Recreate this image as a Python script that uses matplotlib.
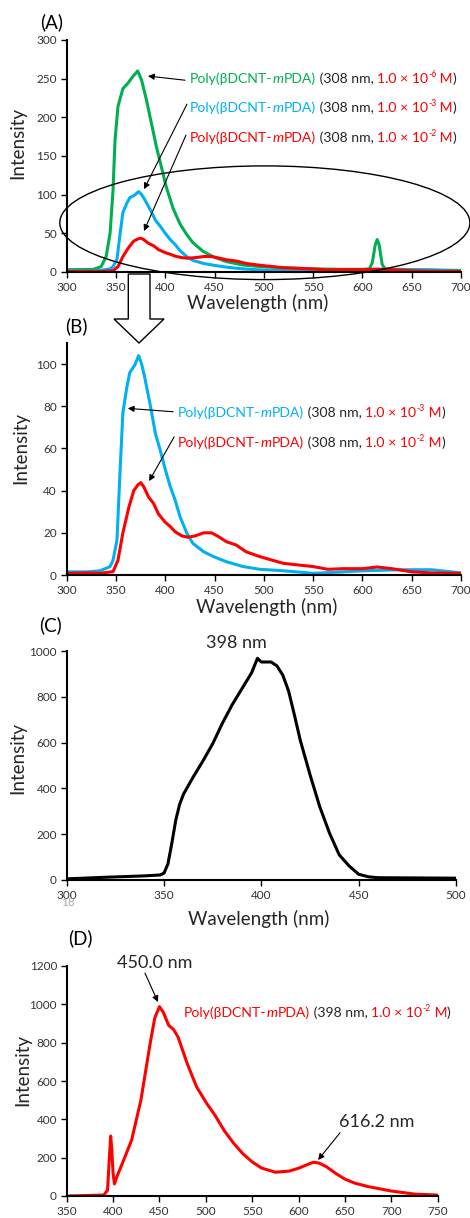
import matplotlib
matplotlib.use("Agg")
import matplotlib.pyplot as plt
from matplotlib.patches import Ellipse, Polygon
from matplotlib.transforms import ScaledTranslation

plt.rcParams['font.family'] = ['Lato', 'DejaVu Sans']

# ---------------- data ----------------
green_wl = [300, 320, 327, 335, 340, 344, 347, 349, 352, 357, 362, 367, 372, 376, 381, 386,
            391, 396, 401, 408, 415, 422, 428, 438, 449, 462, 479, 496, 520, 550, 580, 600,
            607, 610, 613, 615, 617, 620, 623, 650, 700]
green_int = [3, 3.2, 3.4, 7, 20, 50, 106, 170, 214, 237, 244, 252.6, 260, 248, 222, 192,
             162, 136, 110, 82, 62, 48, 38, 27, 19.5, 13.4, 9, 7, 5.5, 4, 3.5, 3.5,
             4, 12, 35, 42, 35, 10, 4, 3, 2]

blue_wl = [300, 320, 334, 344, 347, 351, 354, 357, 361, 364, 369, 373, 376, 379, 385, 390,
           395, 400, 405, 410, 415, 422, 428, 439, 449, 462, 479, 496, 520, 550, 570, 600,
           640, 670, 690, 700]
blue_int = [1.5, 1.5, 2, 4, 7, 16.6, 48, 77, 89, 96, 99.5, 104, 100, 94, 80, 67,
            59, 50, 42, 35.5, 27.6, 19.7, 15, 11, 8.7, 6.3, 4, 2.7, 2, 0.8, 1.2, 2,
            2.5, 2.5, 1.5, 1]

red_wl = [300, 320, 334, 347, 352, 357, 363, 368, 372, 375, 378, 383, 388, 393, 400, 405,
          410, 417, 423, 430, 439, 447, 454, 462, 472, 482, 496, 520, 550, 565, 580, 600,
          615, 630, 650, 670, 700]
red_int = [0.8, 1, 0.8, 1.6, 7, 20, 32, 40, 42.6, 43.8, 42, 37, 34, 29, 25, 23,
           20.5, 18.5, 17.9, 18.5, 20, 20, 18.2, 15.8, 14.2, 11, 8.7, 5.5, 4, 2.7, 3, 3,
           3.8, 3, 1.5, 1, 0.8]

exc_wl = [300, 320, 340, 348, 350, 352, 354, 356, 358, 360, 362, 365, 370, 375, 380, 385,
          390, 395, 398, 400, 405, 408, 411, 414, 417, 420, 425, 430, 435, 440, 445, 450,
          455, 460, 500]
exc_int = [5, 12, 18, 22, 30, 70, 160, 260, 330, 375, 405, 450, 520, 595, 685, 765,
           835, 905, 968, 952, 952, 935, 895, 825, 720, 610, 460, 320, 205, 110, 62, 25,
           14, 10, 8]

em_wl = [350, 390, 394, 396, 397.4, 398.5, 400, 401.5, 404, 410, 420, 430, 440, 445, 450,
         454, 460, 465, 470, 480, 490, 500, 510, 520, 530, 540, 550, 560, 575, 590, 600,
         610, 616, 622, 630, 640, 650, 660, 675, 700, 725, 750]
em_int = [0, 5, 30, 200, 313, 250, 120, 63, 100, 170, 292, 500, 797, 930, 988, 960,
          890, 870, 830, 690, 570, 490, 420, 340, 275, 220, 178, 146, 124, 130, 145,
          165, 176, 172, 153, 118, 88, 68, 49, 26, 10, 5]

a_ticks = [300, 350, 400, 450, 500, 550, 600, 650, 700]
a_yticks = [0, 50, 100, 150, 200, 250, 300]
b_yticks = [0, 20, 40, 60, 80, 100]
c_ticks = [300, 350, 400, 450, 500]
c_yticks = [0, 200, 400, 600, 800, 1000]
d_ticks = [350, 400, 450, 500, 550, 600, 650, 700, 750]
d_yticks = [0, 200, 400, 600, 800, 1000, 1200]

GREEN = '#00B050'
BLUE = '#00B0F0'
RED = '#FF0000'
DARK = '#262626'
TICKC = '#333333'

W, H = 470, 1218
fig = plt.figure(figsize=(W / 100, H / 100), dpi=100)


def axes_px(l, r, t, b):
    return fig.add_axes([l / W, (H - b) / H, (r - l) / W, (b - t) / H])


def style(ax):
    for s in ['top', 'right']:
        ax.spines[s].set_visible(False)
    for s in ['left', 'bottom']:
        ax.spines[s].set_linewidth(1.5)
        ax.spines[s].set_color('black')
    ax.tick_params(direction='out', length=4, width=1, labelsize=8.5,
                   labelcolor=TICKC, pad=3)


def ftext(px, py, s, **kw):
    fig.text(px / W, (H - py) / H, s, **kw)


renderer = fig.canvas.get_renderer()


def measure(s, size, st):
    t1 = fig.text(0, 0, s + '|', fontsize=size, style=st)
    t2 = fig.text(0, 0, '|', fontsize=size, style=st)
    w = t1.get_window_extent(renderer).width - t2.get_window_extent(renderer).width
    t1.remove()
    t2.remove()
    return w


def rich(ax, x, y, pieces, size):
    dx = 0.0
    for s, c, st, sup in pieces:
        fs = size * 0.62 if sup else size
        dy = size * 0.42 if sup else 0.0
        tr = ax.transData + ScaledTranslation(dx / fig.dpi, (dy - 0.36 * size) / 72,
                                              fig.dpi_scale_trans)
        ax.text(x, y, s, color=c, fontsize=fs, style=st, va='baseline', ha='left',
                transform=tr, clip_on=False, zorder=6)
        dx += measure(s, fs, st)


def label_pieces(col, exc, exp):
    return [("Poly(βDCNT-", col, 'normal', False), ("m", col, 'italic', False),
            ("PDA)", col, 'normal', False), (" (" + exc + " nm, ", DARK, 'normal', False),
            ("1.0 × 10", RED, 'normal', False), (exp, RED, 'normal', True),
            (" M", RED, 'normal', False), (")", DARK, 'normal', False)]


def arrow(ax, start, tip):
    ax.annotate('', xy=tip, xytext=start,
                arrowprops=dict(arrowstyle='-|>', color='black', lw=0.8,
                                mutation_scale=9, shrinkA=0, shrinkB=0),
                annotation_clip=False, zorder=6)


LBL = 10.1

# ---------------- (A) ----------------
axA = axes_px(66.7, 461, 40, 272)
style(axA)
axA.plot(green_wl, green_int, color=GREEN, lw=2.2)
axA.plot(blue_wl, blue_int, color=BLUE, lw=2.2)
axA.plot(red_wl, red_int, color=RED, lw=2.2)
axA.set_xlim(300, 700)
axA.set_ylim(0, 300)
axA.set_xticks(a_ticks)
axA.set_yticks(a_yticks)
axA.add_patch(Ellipse((501, 63.7), 416, 147, fill=False, edgecolor='black', lw=1,
                      clip_on=False, zorder=5))
rich(axA, 425, 250.9, label_pieces(GREEN, "308", "-6"), LBL)
rich(axA, 425, 213.4, label_pieces(BLUE, "308", "-3"), LBL)
rich(axA, 425, 174.6, label_pieces(RED, "308", "-2"), LBL)
arrow(axA, (420, 248), (382.5, 253.4))
arrow(axA, (422, 217), (378.4, 107))
arrow(axA, (421, 177), (378.4, 53))

# ---------------- (B) ----------------
axB = axes_px(66.7, 461, 343, 575)
style(axB)
axB.plot(blue_wl, blue_int, color=BLUE, lw=2.2)
axB.plot(red_wl, red_int, color=RED, lw=2.2)
axB.set_xlim(300, 700)
axB.set_ylim(0, 110)
axB.set_xticks(a_ticks)
axB.set_yticks(b_yticks)
rich(axB, 413, 77.4, label_pieces(BLUE, "308", "-3"), LBL)
rich(axB, 413, 63.2, label_pieces(RED, "308", "-2"), LBL)
arrow(axB, (408, 77.4), (362, 79))
arrow(axB, (409, 65.5), (383.6, 44.5))

# ---------------- (C) ----------------
axC = axes_px(66.7, 456, 651, 880)
style(axC)
axC.plot(exc_wl, exc_int, color='black', lw=2.2)
axC.set_xlim(300, 500)
axC.set_ylim(0, 1000)
axC.set_xticks(c_ticks)
axC.set_yticks(c_yticks)
axC.text(387, 1035, "398 nm", fontsize=13, color=DARK, ha='center', va='center',
         clip_on=False)

# ---------------- (D) ----------------
axD = axes_px(66.7, 437.7, 966, 1196)
style(axD)
axD.plot(em_wl, em_int, color=RED, lw=2.2)
axD.set_xlim(350, 750)
axD.set_ylim(0, 1200)
axD.set_xticks(d_ticks)
axD.set_yticks(d_yticks)
rich(axD, 476.5, 960, label_pieces(RED, "398", "-2"), LBL)
axD.text(445.2, 1215.6, "450.0 nm", fontsize=13, color=DARK, ha='center', va='center',
         clip_on=False)
axD.text(684.6, 387.6, "616.2 nm", fontsize=13, color=DARK, ha='center', va='center',
         clip_on=False)
arrow(axD, (434.4, 1163), (448.4, 1012))
arrow(axD, (644.7, 330), (621, 188))

# ---------------- figure texts ----------------
PAN = 13.5
ftext(52, 22, "(A)", fontsize=PAN, ha='center', va='center', color='black')
ftext(76, 326, "(B)", fontsize=PAN, ha='center', va='center', color='black')
ftext(51, 625, "(C)", fontsize=PAN, ha='center', va='center', color='black')
ftext(80, 938, "(D)", fontsize=PAN, ha='center', va='center', color='black')

AX = 13.5
for px, py in [(18, 143), (20.5, 448), (18, 758), (23, 1070)]:
    ftext(px, py, "Intensity", fontsize=AX, rotation=90, ha='center', va='center',
          color=DARK)
for px, py in [(258, 303), (267, 607), (259, 919)]:
    ftext(px, py, "Wavelength (nm)", fontsize=AX, ha='center', va='center', color=DARK)

ftext(68, 902, "18", fontsize=8.5, ha='center', va='center', color='#a8a8a8')

# big hollow arrow between (A) and (B)
pts = [(128.3, 274), (150, 274), (150, 319), (164, 319), (139, 343), (114, 319),
       (128.3, 319)]
fig.patches.append(Polygon([(x / W, (H - y) / H) for x, y in pts], closed=True,
                           facecolor='white', edgecolor='black', lw=1,
                           transform=fig.transFigure, figure=fig, zorder=10))

fig.savefig("out.png", dpi=100)
